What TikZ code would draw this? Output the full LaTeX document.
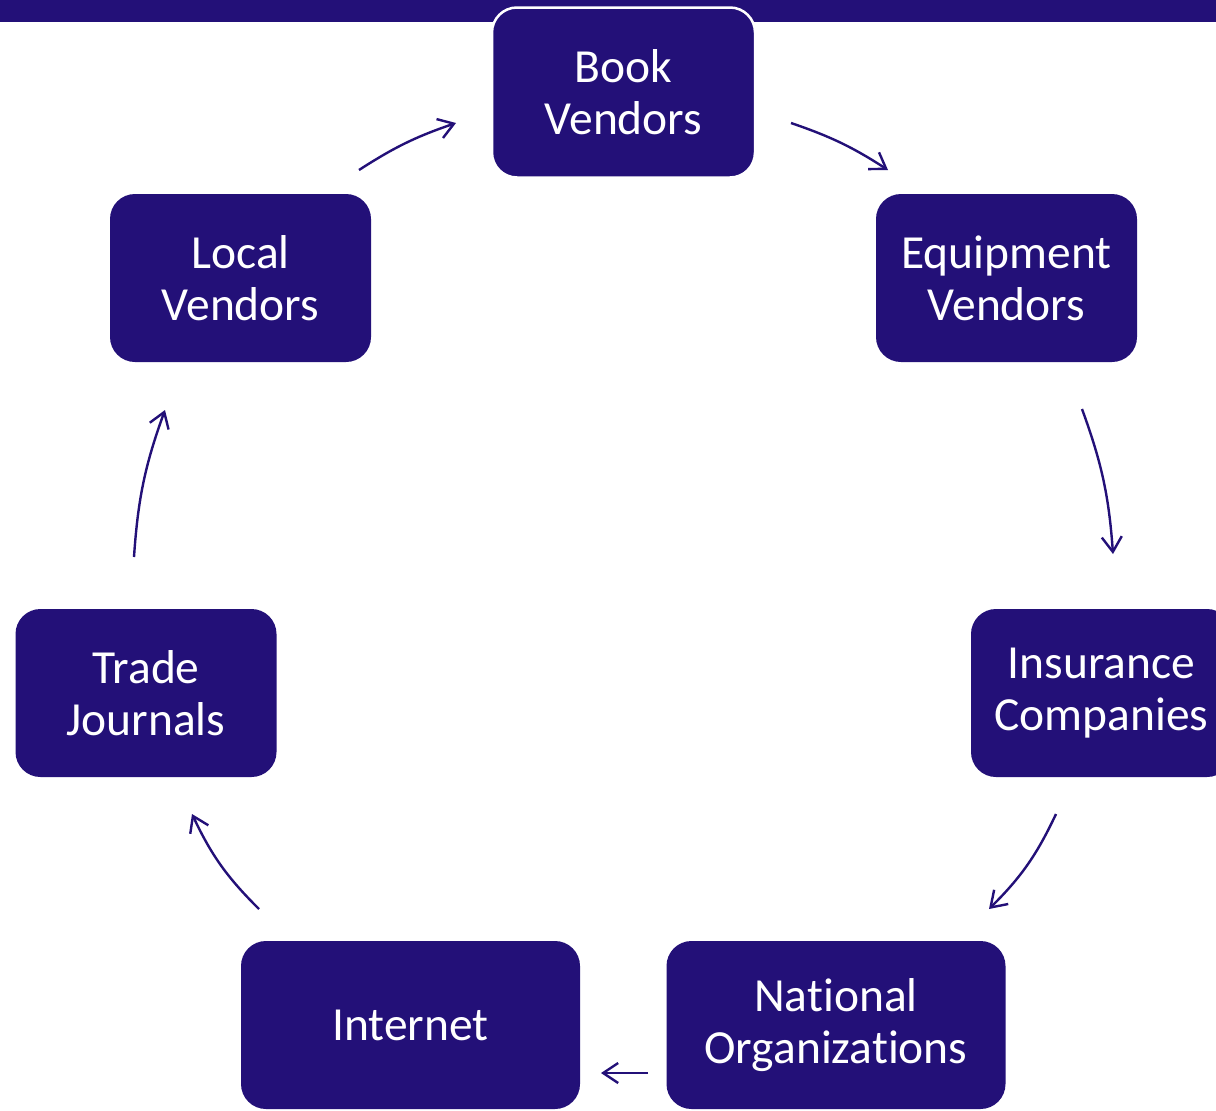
\documentclass[tikz,border=0pt]{standalone}
\usepackage{fontspec}
\setmainfont{Carlito}[Ligatures={NoCommon}]
\usetikzlibrary{arrows.meta}
\definecolor{indigo}{RGB}{35,16,120}
\begin{document}
\begin{tikzpicture}[x=1pt,y=1pt,
  box/.style={fill=indigo,rounded corners=25pt,minimum width=261pt,minimum height=168pt,
    inner sep=0pt,text=white,align=center,font=\fontsize{47.5}{52}\selectfont},
  widebox/.style={box,minimum width=339pt},
  conn/.style={draw=indigo,line width=2.4pt,-{Straight Barb[length=15pt,width=20pt,line width=2.4pt]}}]
\clip (0,0) rectangle (1216,-1111);
\fill[white] (0,0) rectangle (1216,-1111);
\fill[indigo] (0,0) rectangle (1216,-22);
\node[box,draw=white,line width=2.5pt,minimum width=263pt,minimum height=170pt] (book) at (623.5,-92.5) {Book\\Vendors};
\node[box] (equip) at (1006.5,-278) {Equipment\\Vendors};
\node[box] (ins) at (1101.5,-693) {Insurance\\Companies};
\node[widebox] (nat) at (836,-1025) {National\\Organizations};
\node[widebox] (inet) at (410.5,-1025) {Internet};
\node[box] (trade) at (146,-693) {Trade\\Journals};
\node[box] (local) at (240.5,-278) {Local\\Vendors};
\coordinate (a1s) at (359,-170); \coordinate (a1e) at (456,-123);
\coordinate (a2s) at (791,-123); \coordinate (a2e) at (888,-170);
\coordinate (a3s) at (1082,-409); \coordinate (a3e) at (1113,-554);
\coordinate (a4s) at (1056,-814); \coordinate (a4e) at (989,-909);
\coordinate (a5s) at (648,-1073); \coordinate (a5e) at (601,-1073);
\coordinate (a6s) at (259,-909); \coordinate (a6e) at (192,-814);
\coordinate (a7s) at (134,-557); \coordinate (a7e) at (165,-410);
\draw[conn] (a1s) to[bend left=7] (a1e);
\draw[conn] (a2s) to[bend left=7] (a2e);
\draw[conn] (a3s) to[bend left=8] (a3e);
\draw[conn] (a4s) to[bend left=10] (a4e);
\draw[conn] (a5s) -- (a5e);
\draw[conn] (a6s) to[bend left=10] (a6e);
\draw[conn] (a7s) to[bend left=8] (a7e);
\end{tikzpicture}
\end{document}
